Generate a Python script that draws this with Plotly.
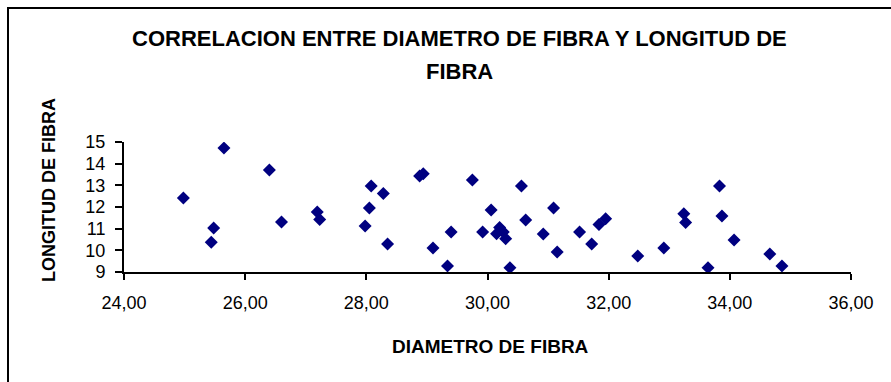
import plotly.graph_objects as go

# Fibre diameter (x) and fibre length (y) for each sample
diametro = [25.65, 24.98, 26.40, 25.48, 25.44, 26.60, 27.19, 27.23, 28.08, 28.05,
            27.98, 28.28, 28.35, 28.88, 28.94, 29.75, 29.10, 29.40, 29.34, 30.06,
            29.92, 30.15, 30.20, 30.26, 30.30, 30.37, 30.56, 30.63, 30.92, 31.09,
            31.15, 31.52, 31.72, 31.84, 31.95, 32.48, 32.91, 33.24, 33.27, 33.64,
            33.83, 33.87, 34.07, 34.66, 34.86]
longitud = [14.72, 12.42, 13.71, 11.03, 10.37, 11.31, 11.77, 11.42, 12.97, 11.95,
            11.12, 12.62, 10.29, 13.43, 13.54, 13.25, 10.11, 10.85, 9.28, 11.86,
            10.85, 10.77, 11.05, 10.85, 10.54, 9.20, 12.97, 11.40, 10.75, 11.95,
            9.92, 10.85, 10.29, 11.19, 11.46, 9.74, 10.11, 11.69, 11.28, 9.20,
            12.97, 11.58, 10.48, 9.83, 9.28]

x_ticks = [24, 26, 28, 30, 32, 34, 36]
x_tick_text = ["24,00", "26,00", "28,00", "30,00", "32,00", "34,00", "36,00"]
y_ticks = [9, 10, 11, 12, 13, 14, 15]

title_lines = ["CORRELACION ENTRE DIAMETRO DE FIBRA Y LONGITUD DE", "FIBRA"]
x_title = "DIAMETRO DE FIBRA"
y_title = "LONGITUD DE FIBRA"

FONT = "Liberation Sans, Arial, sans-serif"

fig = go.Figure(
    go.Scatter(
        x=diametro,
        y=longitud,
        mode="markers",
        marker=dict(symbol="diamond", size=10, color="#000080", line=dict(width=0)),
        hoverinfo="x+y",
    )
)

W, H = 891, 382
ML, MR, MT, MB = 124, 40, 142, 110
pw, ph = W - ML - MR, H - MT - MB


def px_x(px):
    return (px - ML) / pw


def px_y(py):
    return (H - MB - py) / ph


fig.update_layout(
    width=W,
    height=H,
    margin=dict(l=ML, r=MR, t=MT, b=MB),
    paper_bgcolor="white",
    plot_bgcolor="white",
    showlegend=False,
    font=dict(family=FONT, color="black"),
    xaxis=dict(
        range=[24, 36],
        tickvals=x_ticks,
        ticktext=x_tick_text,
        showgrid=False,
        zeroline=False,
        showline=True,
        linecolor="black",
        linewidth=2,
        ticks="outside",
        ticklen=6,
        tickwidth=2,
        tickcolor="black",
        tickfont=dict(family=FONT, size=18),
        ticklabelstandoff=7,
    ),
    yaxis=dict(
        range=[9, 15],
        tickvals=y_ticks,
        showgrid=False,
        zeroline=False,
        showline=True,
        linecolor="black",
        linewidth=2,
        ticks="outside",
        ticklen=7,
        tickwidth=2,
        tickcolor="black",
        tickfont=dict(family=FONT, size=18),
        ticklabelstandoff=6,
    ),
)

# Chart title (two lines) and axis titles
for text, py in zip(title_lines, [39, 72]):
    fig.add_annotation(
        text=f"<b>{text}</b>", xref="paper", yref="paper",
        x=px_x(459), y=px_y(py), xanchor="center", yanchor="middle",
        showarrow=False, font=dict(family=FONT, size=22, color="black"),
    )

fig.add_annotation(
    text=f"<b>{x_title}</b>", xref="paper", yref="paper",
    x=px_x(490), y=px_y(346), xanchor="center", yanchor="middle",
    showarrow=False, font=dict(family=FONT, size=19, color="black"),
)
fig.add_annotation(
    text=f"<b>{y_title}</b>", xref="paper", yref="paper",
    x=px_x(49), y=px_y(190), xanchor="center", yanchor="middle",
    textangle=-90, showarrow=False, font=dict(family=FONT, size=18, color="black"),
)

# Outer chart frame
fig.add_shape(
    type="rect",
    xref="paper", yref="paper",
    x0=px_x(8), x1=px_x(W + 20),
    y0=px_y(H + 20), y1=px_y(8),
    line=dict(color="black", width=2),
    fillcolor="rgba(0,0,0,0)",
    layer="below",
)

fig.write_html("out.html")
